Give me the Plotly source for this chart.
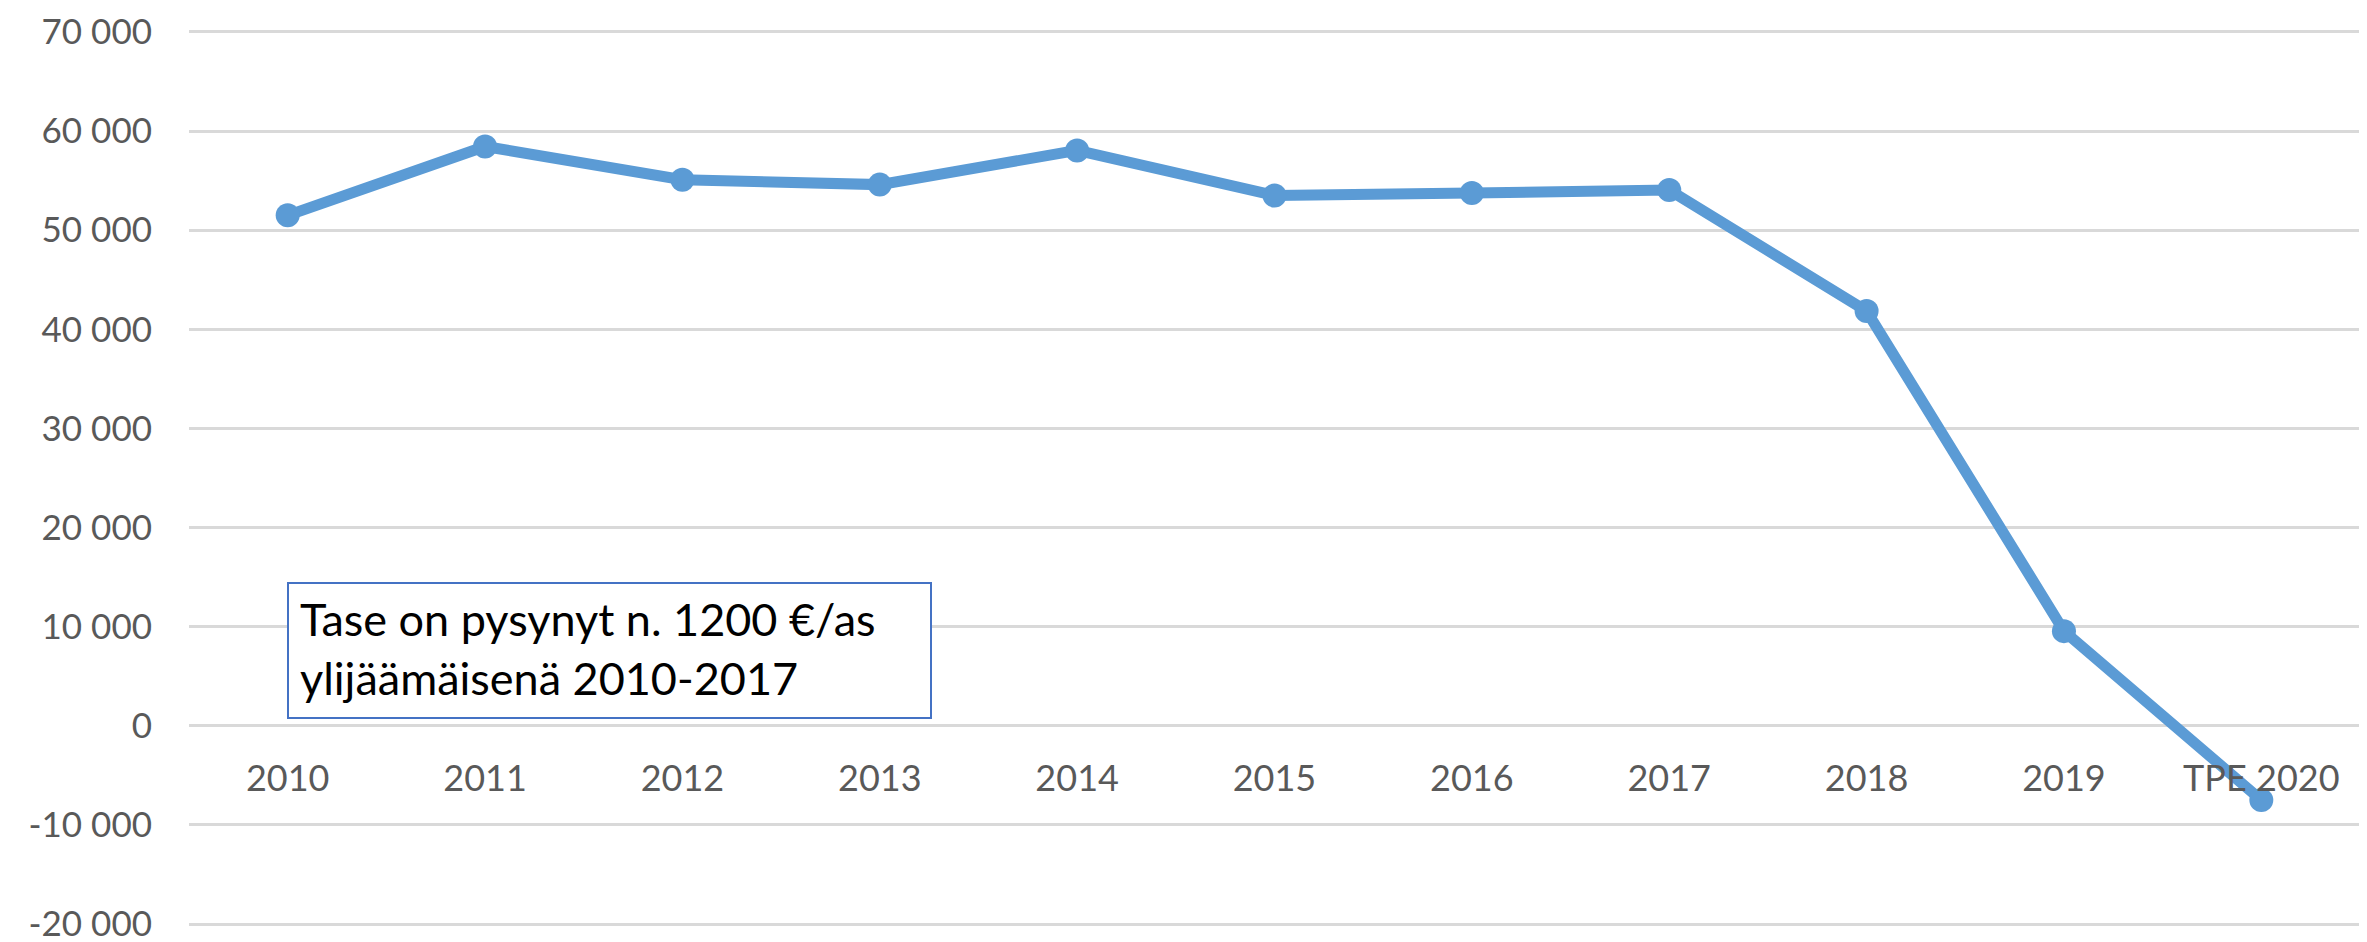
import plotly.graph_objects as go

categories = ["2010", "2011", "2012", "2013", "2014", "2015", "2016", "2017", "2018", "2019", "TPE 2020"]
values = [51500, 58450, 55100, 54600, 58050, 53500, 53750, 54050, 41850, 9550, -7500]
y_tickvals = [-20000, -10000, 0, 10000, 20000, 30000, 40000, 50000, 60000, 70000]
y_ticktext = ["-20 000", "-10 000", "0", "10 000", "20 000", "30 000", "40 000", "50 000", "60 000", "70 000"]
note_text = "Tase on pysynyt n. 1200 €/as<br>ylijäämäisenä 2010-2017"

W, H = 2367, 942
L, R, T, B = 181, 15, 22, 24
pw, ph = W - L - R, H - T - B
y_min, y_max = -20200, 70200


def px_x(x):
    return (x - L) / pw


def px_y(y):
    return (H - B - y) / ph


fig = go.Figure()
fig.add_trace(go.Scatter(
    x=categories, y=values, mode="lines+markers",
    line=dict(color="#5B9BD5", width=11),
    marker=dict(color="#5B9BD5", size=24),
    showlegend=False, cliponaxis=False,
))

fig.update_layout(
    width=W, height=H,
    margin=dict(l=L, r=R, t=T, b=B, pad=0, autoexpand=False),
    paper_bgcolor="white", plot_bgcolor="white",
    font=dict(family="Lato", color="#595959", size=36),
    xaxis=dict(
        type="category", range=[-0.5, len(categories) - 0.5],
        anchor="free", position=(0 - y_min) / (y_max - y_min),
        showgrid=False, showline=False, zeroline=False, ticks="",
        automargin=False, ticklabelstandoff=28,
        tickfont=dict(family="Lato", size=36, color="#595959"),
    ),
    yaxis=dict(
        range=[y_min, y_max], tickvals=y_tickvals, ticktext=y_ticktext,
        showgrid=True, gridcolor="#D9D9D9", gridwidth=3,
        zeroline=False, showline=False, ticks="",
        automargin=False, ticklabelstandoff=36, ticklabeloverflow="allow",
        tickfont=dict(family="Lato", size=35, color="#595959"),
    ),
    shapes=[dict(
        type="rect", xref="paper", yref="paper",
        x0=px_x(280), x1=px_x(923), y0=px_y(710), y1=px_y(575),
        line=dict(color="#4472C4", width=2), fillcolor="white", layer="above",
    )],
    annotations=[dict(
        text=note_text, xref="paper", yref="paper",
        x=px_x(290), y=px_y(640), xanchor="left", yanchor="middle",
        align="left", showarrow=False,
        font=dict(family="Lato", size=45, color="black"),
    )],
)

fig.write_html("out.html")
